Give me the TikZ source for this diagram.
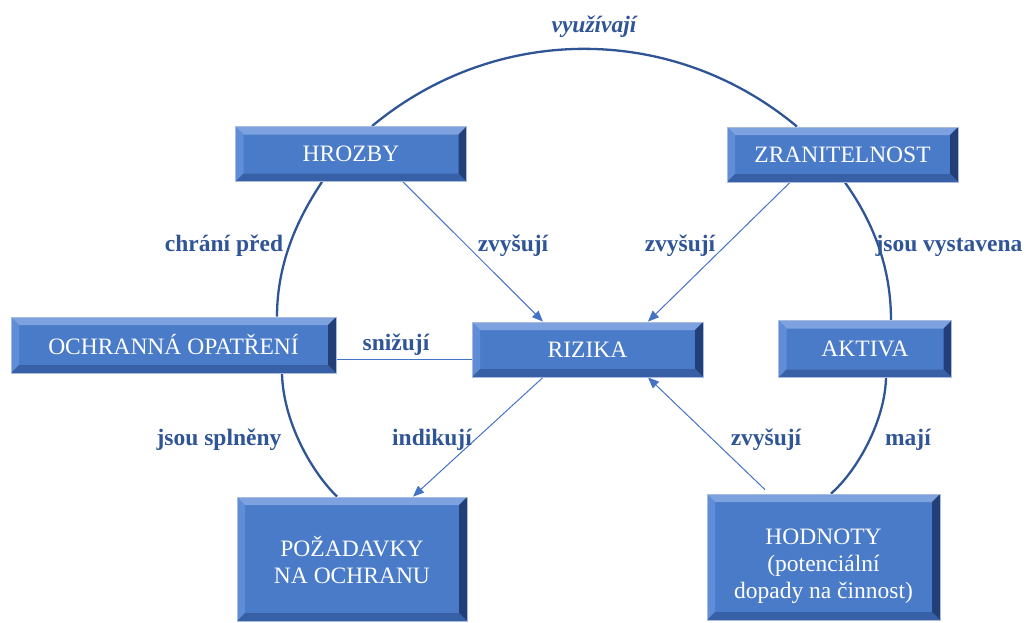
\documentclass[tikz,border=0pt]{standalone}
\usepackage{fontspec}
\setmainfont{Liberation Serif}
\usetikzlibrary{arrows.meta,calc,backgrounds}
\definecolor{boxfill}{HTML}{4A7BC8}
\definecolor{boxedge}{HTML}{A9BCE0}
\definecolor{bvtop}{HTML}{7EA2E0}
\definecolor{bvleft}{HTML}{5F8DD8}
\definecolor{bvright}{HTML}{233F78}
\definecolor{bvbot}{HTML}{3760A6}
\definecolor{labelblue}{HTML}{2F5597}
\definecolor{arcblue}{HTML}{2F5597}
\definecolor{thinblue}{HTML}{4472C4}
\tikzset{
  bevelbox/.style={fill=boxfill, draw=boxedge, line width=0.8pt, text=white,
    font=\fontsize{23.5}{27}\selectfont, align=center, inner sep=0pt, anchor=center,
    path picture={
      \path (path picture bounding box.north west) coordinate (pNW)
            (path picture bounding box.north east) coordinate (pNE)
            (path picture bounding box.south west) coordinate (pSW)
            (path picture bounding box.south east) coordinate (pSE);
      \fill[bvtop] (pNW) -- (pNE) -- ([shift={(-8pt,-8pt)}]pNE) -- ([shift={(8pt,-8pt)}]pNW) -- cycle;
      \fill[bvleft] (pNW) -- ([shift={(8pt,-8pt)}]pNW) -- ([shift={(8pt,8pt)}]pSW) -- (pSW) -- cycle;
      \fill[bvright] (pNE) -- (pSE) -- ([shift={(-8pt,8pt)}]pSE) -- ([shift={(-8pt,-8pt)}]pNE) -- cycle;
      \fill[bvbot] (pSW) -- ([shift={(8pt,8pt)}]pSW) -- ([shift={(-8pt,8pt)}]pSE) -- (pSE) -- cycle;
    }},
  lbl/.style={text=labelblue, font=\fontsize{23.5}{27}\selectfont\bfseries, inner sep=0pt},
  arcline/.style={draw=arcblue, line width=2.3pt},
  thinarrow/.style={draw=thinblue, line width=1pt, -{Triangle[length=11pt,width=9pt]}},
  thinline/.style={draw=thinblue, line width=1pt}
}
\begin{document}
\begin{tikzpicture}[x=1pt,y=-1pt]
\useasboundingbox (0,0) rectangle (1036,622);
% boxes
\node[bevelbox, minimum width=231pt, minimum height=55pt] (hro) at (351,154) {HROZBY};
\node[bevelbox, minimum width=231pt, minimum height=55pt] (zra) at (842.5,154.5) {ZRANITELNOST};
\node[bevelbox, minimum width=325pt, minimum height=56pt] (och) at (173.5,345) {OCHRANNÁ OPATŘENÍ};
\node[bevelbox, minimum width=231pt, minimum height=55pt] (riz) at (587.5,349.5) {RIZIKA};
\node[bevelbox, minimum width=173pt, minimum height=57pt] (akt) at (865,349) {AKTIVA};
\node[bevelbox, minimum width=230pt, minimum height=124pt] (poz) at (352,559) {\rule{0pt}{22pt}POŽADAVKY\\NA OCHRANU};
\node[bevelbox, minimum width=233pt, minimum height=126pt] (hod) at (823.5,557) {\rule{0pt}{34pt}HODNOTY\\(potenciální\\dopady na činnost)};
% arcs
\begin{scope}[on background layer]
\draw[arcline] ([xshift=21pt]hro.north) .. controls (496,23) and (673,23) .. ([xshift=-45.5pt]zra.north);
\draw[arcline] ([xshift=-29pt]hro.south) .. controls (300,215) and (277,260) .. ([xshift=103.5pt]och.north);
\draw[arcline] ([xshift=108.5pt]och.south) .. controls (283,420) and (310,470) .. ([xshift=-15pt]poz.north);
\draw[arcline] ([xshift=2.5pt]zra.south) .. controls (868,215) and (891,260) .. ([xshift=26pt]akt.north);
\draw[arcline] ([xshift=21pt]akt.south) .. controls (885,420) and (858,470) .. ([xshift=7.5pt]hod.north);
% thin connectors
\draw[thinarrow] ([xshift=52pt]hro.south) -- ([xshift=-44.5pt]riz.north);
\draw[thinarrow] ([xshift=-52.5pt]zra.south) -- ([xshift=60.5pt]riz.north);
\draw[thinarrow] ([xshift=-44.5pt]riz.south) -- ([xshift=61pt]poz.north);
\draw[thinarrow] ([xshift=-58.5pt,yshift=4pt]hod.north) -- ([xshift=60.5pt]riz.south);
\draw[thinline] ([yshift=-14pt]och.east) -- ([yshift=-14pt]och.east -| riz.west);
\end{scope}
% labels
\node[lbl, font=\fontsize{23.5}{27}\selectfont\bfseries\itshape] (l1) at (594,27) {využívají};
\node[lbl] (l2) at (224,246) {chrání před};
\node[lbl] (l3) at (513,246) {zvyšují};
\node[lbl] (l4) at (680,246) {zvyšují};
\node[lbl] (l5) at (949,246) {jsou vystavena};
\node[lbl] (l6) at (396,345) {snižují};
\node[lbl] (l7) at (219,440) {jsou splněny};
\node[lbl] (l8) at (432,440) {indikují};
\node[lbl] (l9) at (766,440) {zvyšují};
\node[lbl] (l10) at (908,440) {mají};
\end{tikzpicture}
\end{document}
